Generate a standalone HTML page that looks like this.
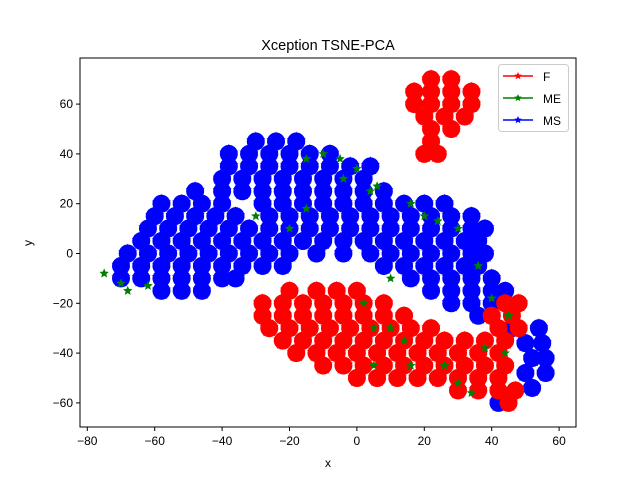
<!DOCTYPE html>
<html><head><meta charset="utf-8"><style>
html,body{margin:0;padding:0;background:#fff;}
svg{display:block;font-family:"Liberation Sans","DejaVu Sans",sans-serif;}
</style></head><body>
<svg id="chart" width="640" height="480">
<rect width="640" height="480" fill="#fff"/>
<g id="marks"></g>
<g id="axes"></g>
<text x="328" y="50" text-anchor="middle" font-size="14.5">Xception TSNE-PCA</text>
<text x="328" y="467" text-anchor="middle" font-size="12">x</text>
<text x="32" y="243" text-anchor="middle" font-size="12" transform="rotate(-90 32 243)">y</text>
<g>
<rect x="498.5" y="64.5" width="70" height="67" rx="3" fill="#fff" stroke="#ccc"/>
<g><line x1="503" y1="76" x2="533" y2="76" stroke="red" stroke-width="1.5"/><text x="543" y="81" font-size="12">F</text></g>
<g><line x1="503" y1="98" x2="533" y2="98" stroke="green" stroke-width="1.5"/><text x="543" y="103" font-size="12">ME</text></g>
<g><line x1="503" y1="120" x2="533" y2="120" stroke="blue" stroke-width="1.5"/><text x="543" y="125" font-size="12">MS</text></g>
<g id="legstars"></g>
</g>
</svg>
<script>
const xTicks=[-80,-60,-40,-20,0,20,40,60];
const yTicks=[-60,-40,-20,0,20,40,60];
const blueRows=[[45,[-30,-24,-18]],[40,[-38,-32,-26,-20,-14,-8]],[35,[-38,-32,-26,-20,-14,-8,-2,4]],[30,[-40,-34,-28,-22,-16,-10,-4,2]],[25,[-48,-40,-34,-28,-22,-16,-10,-4,2,8]],[20,[-58,-52,-46,-40,-28,-22,-16,-10,-4,2,8,14,20,26]],[15,[-60,-54,-48,-42,-36,-26,-20,-14,-8,-2,4,10,16,22,28,34]],[10,[-62,-56,-50,-44,-38,-32,-26,-20,-14,-8,-2,4,10,16,22,28,34,38]],[5,[-64,-58,-52,-46,-40,-34,-28,-22,-16,-10,-4,2,8,14,20,26,32,36]],[0,[-68,-62,-56,-50,-44,-38,-32,-26,-20,-12,-4,4,10,16,22,28,34,38]],[-5,[-70,-64,-58,-52,-46,-40,-34,-28,-22,8,14,20,26,32,36]],[-10,[-70,-64,-58,-52,-46,-40,-36,16,22,28,34,40]],[-15,[-58,-52,-46,22,28,34,40,44]],[-20,[28,34,40]],[-25,[36,40]],[-30,[46,54]],[-36,[50,55]],[-42,[52,56]],[-48,[50,56]],[-54,[52]],[-60,[42]]];
const redRows=[[-15,[-20,-12,-6,0]],[-20,[-28,-22,-16,-10,-4,2,8,44,48]],[-25,[-28,-22,-16,-10,-4,2,8,14,40,46]],[-30,[-26,-20,-14,-8,-2,4,10,16,22,42,48]],[-35,[-22,-16,-10,-4,2,8,14,20,26,32,38,44]],[-40,[-18,-12,-6,0,6,12,18,24,30,36,42]],[-45,[-10,-4,2,8,14,20,26,32,38,44]],[-50,[0,6,12,18,24,30,36,42]],[-55,[30,36,42,47]],[-60,[45]],[70,[22,28]],[65,[17,22,28,34]],[60,[17,22,28,34]],[55,[20,26,32]],[50,[22,28]],[45,[22]],[40,[20,24]]];
const greenPts=[[-75,-8],[-70,-12],[-68,-15],[-62,-13],[-15,38],[-10,40],[-5,38],[-4,30],[0,34],[4,25],[6,27],[16,20],[20,15],[24,13],[30,10],[36,-5],[40,-18],[45,-25],[2,-20],[5,-30],[10,-30],[14,-35],[16,-45],[26,-45],[30,-52],[34,-56],[-20,10],[-30,15],[-15,18],[10,-10],[5,-45],[38,-38],[44,-40]];
const NS='http://www.w3.org/2000/svg';
const X0=80,X1=576,Y0=58,Y1=427;
function sx(v){return 87.3+(v+80)*3.37;}
function sy(v){return 253.5-v*2.49;}
function star(x,y,r,c){const p=[];for(let i=0;i<10;i++){const a=-Math.PI/2+i*Math.PI/5;const rr=i%2?r*0.45:r;p.push((x+rr*Math.cos(a)).toFixed(1)+','+(y+rr*Math.sin(a)).toFixed(1));}const e=document.createElementNS(NS,'polygon');e.setAttribute('points',p.join(' '));e.setAttribute('fill',c);return e;}
const marks=document.getElementById('marks');
function drawRows(rows,c,r,name){rows.forEach(([y,xs])=>xs.forEach(x=>{
const g=document.createElementNS(NS,'g');


const ci=document.createElementNS(NS,'circle');ci.setAttribute('cx',sx(x));ci.setAttribute('cy',sy(y));ci.setAttribute('r',9);ci.setAttribute('fill',c);
g.appendChild(ci);g.appendChild(star(sx(x),sy(y),r,c));marks.appendChild(g);}));}
drawRows(blueRows,'blue',10,'point-ms');
drawRows(redRows,'red',10,'point-f');
greenPts.forEach(([x,y])=>{const e=star(sx(x),sy(y),5,'green');


marks.appendChild(e);});
const ax=document.getElementById('axes');
const fr=document.createElementNS(NS,'rect');fr.setAttribute('x',X0);fr.setAttribute('y',Y0);fr.setAttribute('width',X1-X0);fr.setAttribute('height',Y1-Y0);fr.setAttribute('fill','none');fr.setAttribute('stroke','#000');


ax.appendChild(fr);
xTicks.forEach(t=>{const x=sx(t);const l=document.createElementNS(NS,'line');l.setAttribute('x1',x);l.setAttribute('x2',x);l.setAttribute('y1',Y1);l.setAttribute('y2',Y1+4);l.setAttribute('stroke','#000');ax.appendChild(l);
const tx=document.createElementNS(NS,'text');tx.setAttribute('x',x);tx.setAttribute('y',Y1+18);tx.setAttribute('text-anchor','middle');tx.setAttribute('font-size','12');tx.textContent=String(t).replace('-','\u2212');


ax.appendChild(tx);});
yTicks.forEach(t=>{const y=sy(t);const l=document.createElementNS(NS,'line');l.setAttribute('x1',X0-4);l.setAttribute('x2',X0);l.setAttribute('y1',y);l.setAttribute('y2',y);l.setAttribute('stroke','#000');ax.appendChild(l);
const tx=document.createElementNS(NS,'text');tx.setAttribute('x',X0-7);tx.setAttribute('y',y+4);tx.setAttribute('text-anchor','end');tx.setAttribute('font-size','12');tx.textContent=String(t).replace('-','\u2212');


ax.appendChild(tx);});
const ls=document.getElementById('legstars');
[['red',76],['green',98],['blue',120]].forEach(([c,y])=>ls.appendChild(star(518,y,4,c)));
</script>
</body></html>
